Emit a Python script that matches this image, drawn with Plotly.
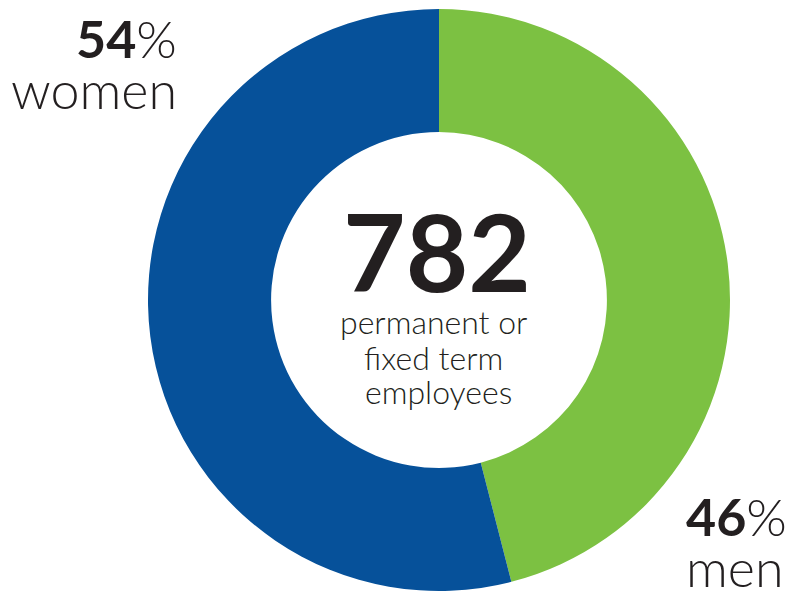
import plotly.graph_objects as go

labels = ["men", "women"]
values = [46, 54]
colors = ["#7cc142", "#06519a"]
total = 782
center_lines = ["permanent or", "fixed term", "employees"]

W, H = 793, 592
cx, cy, R = 439, 300, 291

fig = go.Figure(go.Pie(
    labels=labels, values=values, sort=False, direction="clockwise", rotation=0,
    hole=0.577, marker=dict(colors=colors, line=dict(width=0)),
    textinfo="none", hoverinfo="label+percent", showlegend=False,
    domain=dict(x=[(cx - R) / W, (cx + R) / W], y=[(H - cy - R) / H, (H - cy + R) / H]),
))

font = "Lato, 'Open Sans', sans-serif"
dark = "#231f20"

def px(x):
    return x / W

def py(y):
    return 1 - y / H

ann = []
ann.append(dict(x=px(437), y=py(250), text=f"<b>{total}</b>", showarrow=False,
                font=dict(family=font, size=108, color=dark), xanchor="center", yanchor="middle"))
line_y = [321, 357, 391]
line_x = [433, 433, 439]
for line, lx, ly in zip(center_lines, line_x, line_y):
    ann.append(dict(x=px(lx), y=py(ly), text=line, showarrow=False,
                    font=dict(family=font, size=32, color=dark, weight=300),
                    xanchor="center", yanchor="middle"))

side = dict(family=font, size=52, color=dark, weight=300)
ann.append(dict(x=px(179), y=py(38), text=f"<b>{values[1]}</b>%", showarrow=False,
                font=side, xanchor="right", yanchor="middle"))
ann.append(dict(x=px(179), y=py(89), text=labels[1], showarrow=False,
                font=side, xanchor="right", yanchor="middle"))
ann.append(dict(x=px(684), y=py(516), text=f"<b>{values[0]}</b>%", showarrow=False,
                font=side, xanchor="left", yanchor="middle"))
ann.append(dict(x=px(684), y=py(567), text=labels[0], showarrow=False,
                font=side, xanchor="left", yanchor="middle"))

fig.update_layout(
    width=W, height=H, margin=dict(l=0, r=0, t=0, b=0),
    paper_bgcolor="white", plot_bgcolor="white", annotations=ann,
)
fig.write_html("out.html")
